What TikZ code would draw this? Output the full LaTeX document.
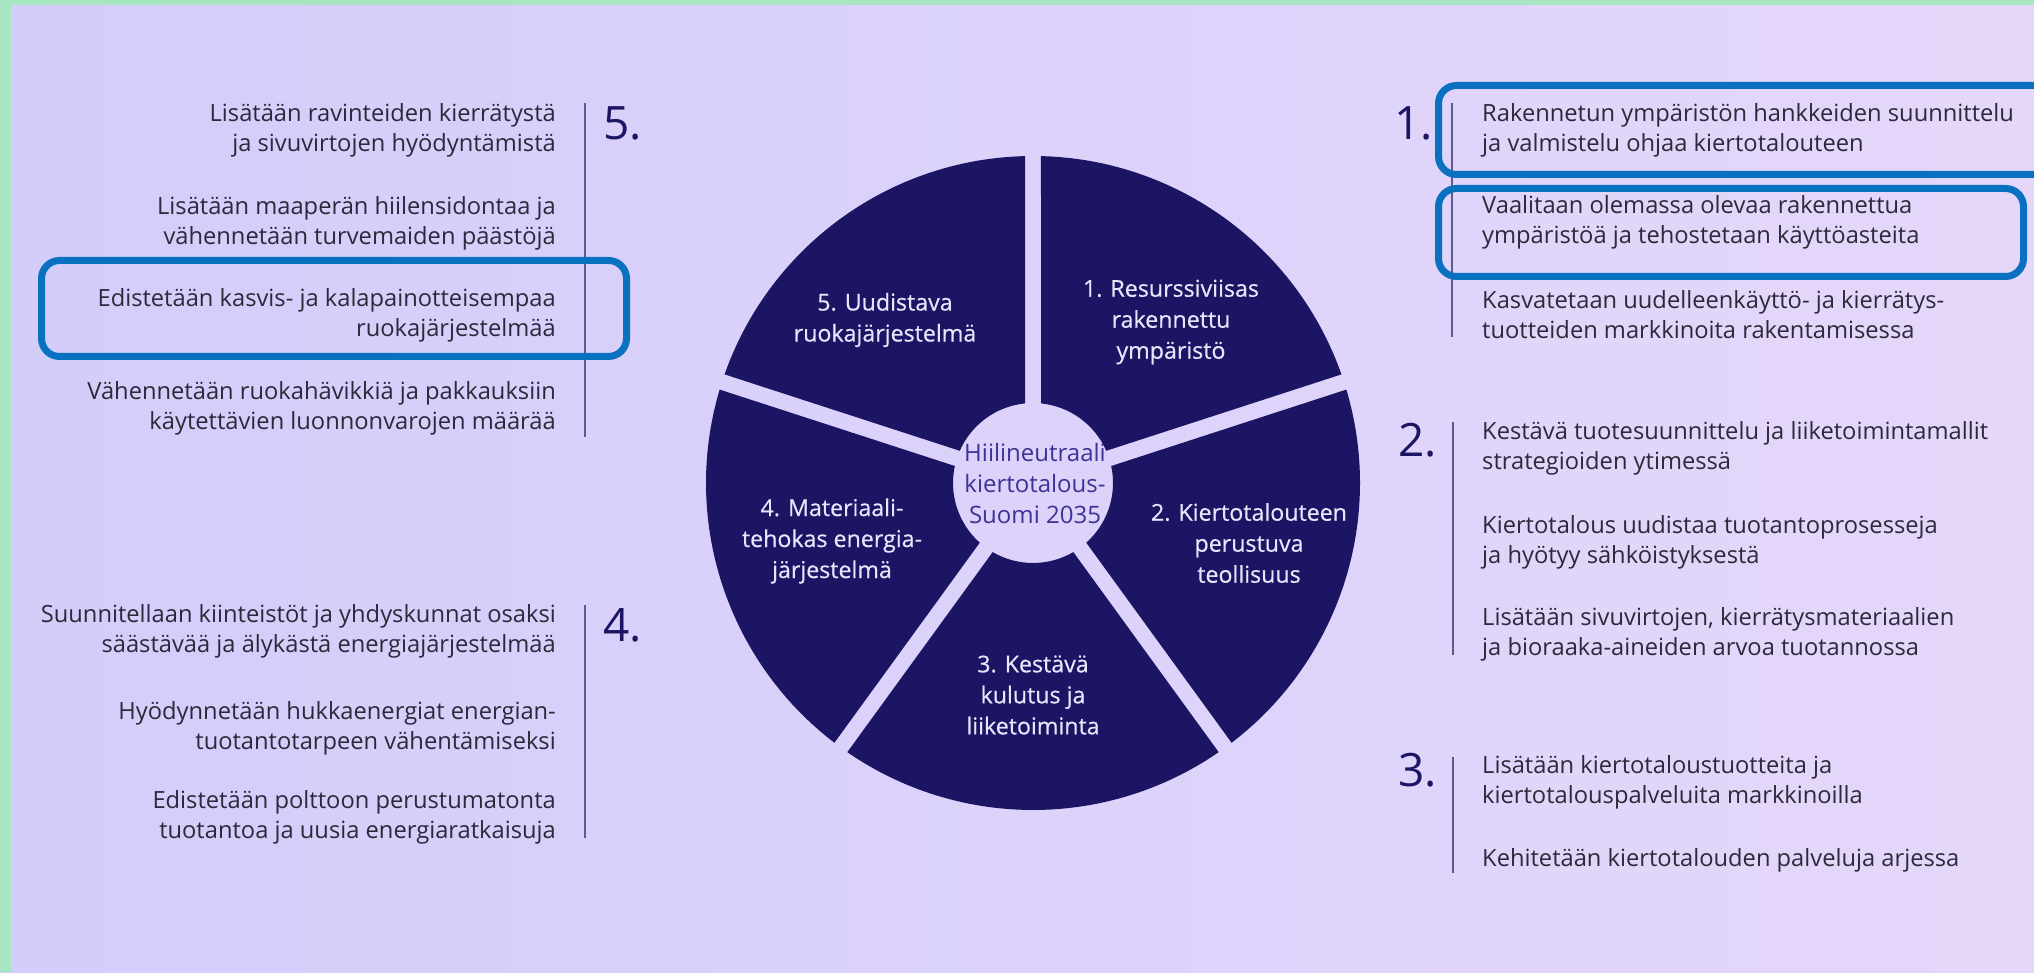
\documentclass[tikz,border=0pt]{standalone}
\usepackage{fontspec}
\setmainfont{Open Sans}
\newfontfamily\wedgefont[FakeBold=0.5]{Open Sans}
\usepackage{xcolor}
\usetikzlibrary{positioning,calc}

\definecolor{bgleft}{RGB}{211,205,250}
\definecolor{bgright}{RGB}{229,215,250}
\definecolor{mint}{RGB}{168,230,194}
\definecolor{navy}{RGB}{27,21,100}
\definecolor{boxblue}{RGB}{10,112,192}
\definecolor{bodytext}{RGB}{44,41,58}
\definecolor{rulecol}{RGB}{95,90,140}
\definecolor{hubtext}{RGB}{62,50,150}
\definecolor{wedgetext}{RGB}{232,228,251}

\tikzset{
  item/.style={font=\fontsize{23.7}{30}\selectfont, text=bodytext, inner sep=0pt},
  itemleft/.style={item, anchor=east, align=right},
  itemright/.style={item, anchor=west, align=left},
  bignum/.style={font=\fontsize{46}{46}\selectfont, text=navy, inner sep=0pt},
  divider/.style={rulecol, line width=1.8pt},
  highlight/.style={boxblue, line width=7pt, rounded corners=18pt},
  wedge/.style={fill=navy},
  wedgelabel/.style={font=\wedgefont\fontsize{23.2}{31}\selectfont, text=wedgetext, align=center, inner sep=0pt},
  hublabel/.style={font=\fontsize{24}{31}\selectfont, text=hubtext, align=center, inner sep=0pt}
}

\begin{document}
\begin{tikzpicture}[x=1pt,y=1pt]
    \useasboundingbox (0,0) rectangle (2034,972);

    % Background
    \shade[left color=bgleft, right color=bgright] (0,0) rectangle (2034,972);
    \fill[mint] (0,0) rectangle (11,972);
    \fill[mint] (0,967) rectangle (2034,972);

    % Wheel
    \coordinate (centre) at (1033,489);
    \foreach \a in {90,18,-54,-126,162} {
        \fill[wedge] ($(centre)+(\a-72+1.4:327)$) arc[start angle=\a-72+1.4, end angle=\a-1.4, radius=327]
            -- ($(centre)+(\a-5.74:80)$) arc[start angle=\a-5.74, end angle=\a-72+5.74, radius=80] -- cycle;
    }
    \node[hublabel] (hub) at (1035,488) {Hiilineutraali\\kiertotalous-\\Suomi 2035};
    \node[wedgelabel] (w1) at (1171,650) {1. Resurssiviisas\\rakennettu\\ympäristö};
    \node[wedgelabel] (w2) at (1249,429) {2. Kiertotalouteen\\perustuva\\teollisuus};
    \node[wedgelabel] (w3) at (1033,277) {3. Kestävä\\kulutus ja\\liiketoiminta};
    \node[wedgelabel] (w4) at (832,431) {4. Materiaali-\\tehokas energia-\\järjestelmä};
    \node[wedgelabel] (w5) at (885,652) {5. Uudistava\\ruokajärjestelmä};

    % Group 5
    \draw[divider] (585,869) -- (585,535);
    \node[bignum, anchor=base west] (n5) at (603,832) {5.};
    \node[itemleft] (g5a) at (556,842) {Lisätään ravinteiden kierrätystä\\ja sivuvirtojen hyödyntämistä};
    \node[itemleft] (g5b) at (556,749) {Lisätään maaperän hiilensidontaa ja\\vähennetään turvemaiden päästöjä};
    \node[itemleft] (g5c) at (556,657) {Edistetään kasvis- ja kalapainotteisempaa\\ruokajärjestelmää};
    \node[itemleft] (g5d) at (556,564) {Vähennetään ruokahävikkiä ja pakkauksiin\\käytettävien luonnonvarojen määrää};

    % Group 4
    \draw[divider] (585,367) -- (585,134);
    \node[bignum, anchor=base west] (n4) at (603,330) {4.};
    \node[itemleft] (g4a) at (556,341) {Suunnitellaan kiinteistöt ja yhdyskunnat osaksi\\säästävää ja älykästä energiajärjestelmää};
    \node[itemleft] (g4b) at (556,244) {Hyödynnetään hukkaenergiat energian-\\tuotantotarpeen vähentämiseksi};
    \node[itemleft] (g4c) at (556,155) {Edistetään polttoon perustumatonta\\tuotantoa ja uusia energiaratkaisuja};

    % Group 1
    \draw[divider] (1452,869) -- (1452,635);
    \node[bignum, anchor=base east] (n1) at (1433,832) {1.};
    \node[itemright] (g1a) at (1482,842) {Rakennetun ympäristön hankkeiden suunnittelu\\ja valmistelu ohjaa kiertotalouteen};
    \node[itemright] (g1b) at (1482,750) {Vaalitaan olemassa olevaa rakennettua\\ympäristöä ja tehostetaan käyttöasteita};
    \node[itemright] (g1c) at (1482,657) {Kasvatetaan uudelleenkäyttö- ja kierrätys-\\tuotteiden markkinoita rakentamisessa};

    % Group 2
    \draw[divider] (1453,550) -- (1453,317);
    \node[bignum, anchor=base east] (n2) at (1437,515) {2.};
    \node[itemright] (g2a) at (1482,524) {Kestävä tuotesuunnittelu ja liiketoimintamallit\\strategioiden ytimessä};
    \node[itemright] (g2b) at (1482,430) {Kiertotalous uudistaa tuotantoprosesseja\\ja hyötyy sähköistyksestä};
    \node[itemright] (g2c) at (1482,338) {Lisätään sivuvirtojen, kierrätysmateriaalien\\ja bioraaka-aineiden arvoa tuotannossa};

    % Group 3
    \draw[divider] (1453,215) -- (1453,99);
    \node[bignum, anchor=base east] (n3) at (1437,185) {3.};
    \node[itemright] (g3a) at (1482,190) {Lisätään kiertotaloustuotteita ja\\kiertotalouspalveluita markkinoilla};
    \node[itemright] (g3b) at (1482,112) {Kehitetään kiertotalouden palveluja arjessa};

    % Highlights
    \draw[highlight] (41.5,711.5) rectangle (626.5,615.5);
    \draw[highlight] (1438.5,886.5) rectangle (2060,797.5);
    \draw[highlight] (1438.5,783.5) rectangle (2023.5,695.5);
\end{tikzpicture}
\end{document}
